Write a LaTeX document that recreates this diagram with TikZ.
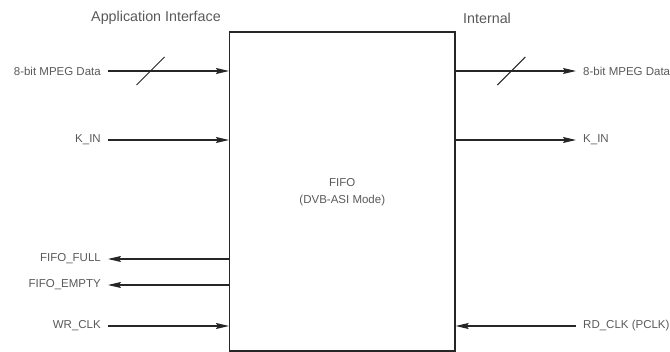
\documentclass[tikz,border=0pt]{standalone}
\usepackage{fontspec}
\setmainfont{Liberation Sans}
\usetikzlibrary{arrows.meta,positioning,calc}

\begin{document}
\begin{tikzpicture}[x=1pt, y=-1pt, >={Stealth[length=13pt,width=6pt,inset=2pt]},
  font=\fontsize{11.5}{17}\selectfont,
  block/.style={draw=black!85, line width=1.2pt, minimum width=225.5pt, minimum height=319pt, align=center, text=black!65, inner sep=0pt},
  sig/.style={text=black!65, inner sep=3.5pt},
  head/.style={text=black!65, font=\fontsize{14.3}{16}\selectfont, inner sep=0pt},
  wire/.style={draw=black!85, line width=1.1pt},
  bus/.style={draw=black!85, line width=1pt}]
\useasboundingbox (0,0) rectangle (670,352);
% ---------------- FIFO block
\node[block] (fifo) at (342.3,191.5) {\raisebox{-2.5pt}{\begin{tabular}{@{}c@{}}FIFO\\(DVB-ASI Mode)\end{tabular}}};
\node[head] (appif) at (156,18) {Application Interface};
\node[head, anchor=west] (intern) at (463,18) {Internal};
% ---------------- application side
\node[sig, anchor=east] (din) at (104.5,71) {8-bit MPEG Data};
\node[sig, anchor=east] (kin) at (104.5,140) {K\_IN};
\node[sig, anchor=east] (full) at (104.5,259) {FIFO\_FULL};
\node[sig, anchor=east] (empty) at (104.5,285) {FIFO\_EMPTY};
\node[sig, anchor=east] (wrclk) at (104.5,326) {WR\_CLK};
\draw[wire, ->, shorten <=3.5pt] (din.east) -- (din.east -| fifo.west) coordinate[pos=0.37] (dslash);
\draw[wire, ->, shorten <=3.5pt] (kin.east) -- (kin.east -| fifo.west);
\draw[wire, <-, shorten <=3.5pt] (full.east) -- (full.east -| fifo.west);
\draw[wire, <-, shorten <=3.5pt] (empty.east) -- (empty.east -| fifo.west);
\draw[wire, ->, shorten <=3.5pt] (wrclk.east) -- (wrclk.east -| fifo.west);
\draw[bus] ($(dslash)+(-14,14)$) -- ($(dslash)+(14,-14)$);
% ---------------- internal side
\node[sig, anchor=west] (dout) at (579.5,71) {8-bit MPEG Data};
\node[sig, anchor=west] (kout) at (579.5,140) {K\_IN};
\node[sig, anchor=west] (rdclk) at (579.5,326) {RD\_CLK (PCLK)};
\draw[wire, ->, shorten >=3.5pt] (dout.west -| fifo.east) -- (dout.west) coordinate[pos=0.45] (qslash);
\draw[wire, ->, shorten >=3.5pt] (kout.west -| fifo.east) -- (kout.west);
\draw[wire, <-, shorten >=3.5pt] (rdclk.west -| fifo.east) -- (rdclk.west);
\draw[bus] ($(qslash)+(-14,14)$) -- ($(qslash)+(14,-14)$);
\end{tikzpicture}
\end{document}
